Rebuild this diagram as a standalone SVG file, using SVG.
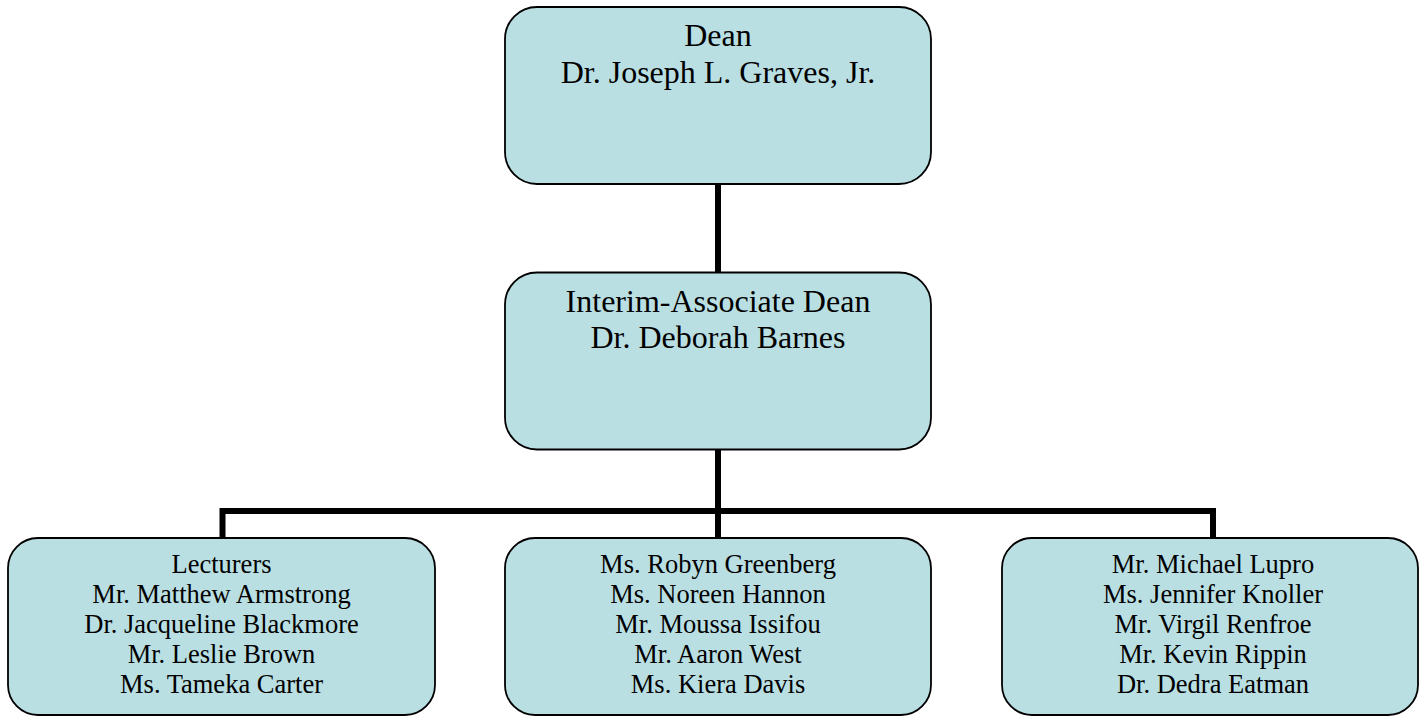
<svg xmlns="http://www.w3.org/2000/svg" width="1419" height="717" viewBox="0 0 1419 717">
<style>
.box{fill:#BADFE3;stroke:#000;stroke-width:1.8}
.t{font-family:"Liberation Serif","Times New Roman",serif;fill:#000;text-anchor:middle}
.big{font-size:32px}
.sm{font-size:26.5px}
.c{stroke:#000;stroke-width:6;fill:none;stroke-linecap:butt}
</style>
<rect width="1419" height="717" fill="#fff"/>
<g id="connectors">
<line class="c" x1="718" y1="185" x2="718" y2="272"/>
<line class="c" x1="718" y1="450" x2="718" y2="538"/>
<polyline class="c" points="222.5,538 222.5,511 1213,511 1213,538"/>
</g>
<g id="dean">
<rect class="box" x="505" y="7" width="426" height="177" rx="32"/>
<text class="t big" x="718" y="46">Dean</text>
<text class="t big" x="718" y="83">Dr. Joseph L. Graves, Jr.</text>
</g>
<g id="associate-dean">
<rect class="box" x="505" y="272.5" width="426" height="177" rx="32"/>
<text class="t big" x="718" y="312">Interim-Associate Dean</text>
<text class="t big" x="718" y="348">Dr. Deborah Barnes</text>
</g>
<g id="lecturers">
<rect class="box" x="8" y="538" width="427" height="177" rx="30"/>
<text class="t sm" x="221.5" y="573">Lecturers</text>
<text class="t sm" x="221.5" y="603">Mr. Matthew Armstrong</text>
<text class="t sm" x="221.5" y="633">Dr. Jacqueline Blackmore</text>
<text class="t sm" x="221.5" y="663">Mr. Leslie Brown</text>
<text class="t sm" x="221.5" y="693">Ms. Tameka Carter</text>
</g>
<g id="group-middle">
<rect class="box" x="505" y="538" width="426" height="177" rx="30"/>
<text class="t sm" x="718" y="573">Ms. Robyn Greenberg</text>
<text class="t sm" x="718" y="603">Ms. Noreen Hannon</text>
<text class="t sm" x="718" y="633">Mr. Moussa Issifou</text>
<text class="t sm" x="718" y="663">Mr. Aaron West</text>
<text class="t sm" x="718" y="693">Ms. Kiera Davis</text>
</g>
<g id="group-right">
<rect class="box" x="1002" y="538" width="416" height="177" rx="30"/>
<text class="t sm" x="1213" y="573">Mr. Michael Lupro</text>
<text class="t sm" x="1213" y="603">Ms. Jennifer Knoller</text>
<text class="t sm" x="1213" y="633">Mr. Virgil Renfroe</text>
<text class="t sm" x="1213" y="663">Mr. Kevin Rippin</text>
<text class="t sm" x="1213" y="693">Dr. Dedra Eatman</text>
</g>
</svg>
